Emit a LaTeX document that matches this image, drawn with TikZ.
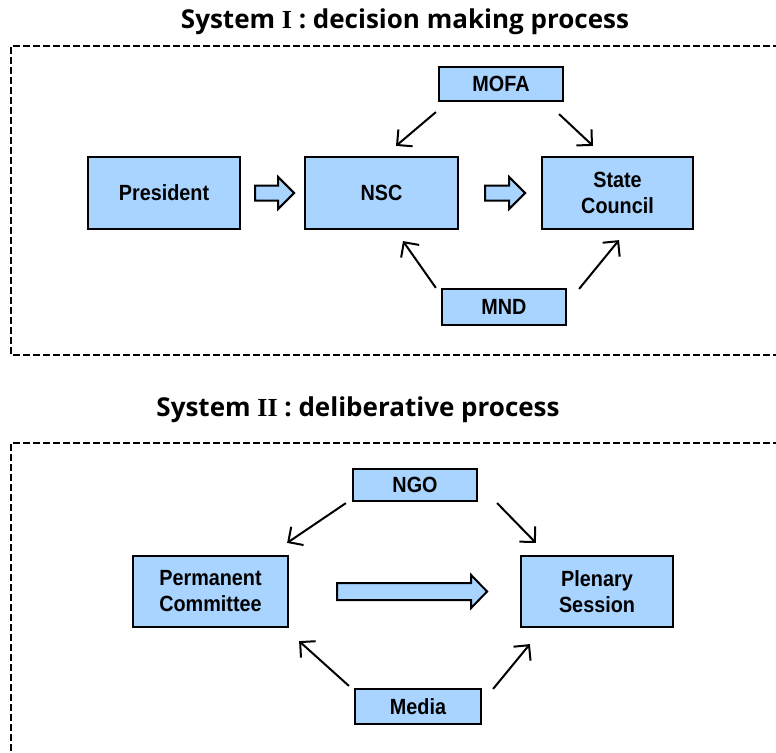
\documentclass[tikz,border=0pt]{standalone}
\usepackage{fontspec}
\setmainfont{Liberation Sans}
\newfontfamily\boxfont[FakeStretch=0.9]{Liberation Sans}
\newfontfamily\titlefont{Open Sans}
\newfontfamily\numfont{Liberation Serif}
\usetikzlibrary{arrows.meta,calc}
\definecolor{boxblue}{RGB}{168,212,255}
\tikzset{
  unitbox/.style={draw=black, line width=2.2pt, fill=boxblue, align=center,
    inner sep=0pt, font=\boxfont\bfseries\fontsize{22}{26}\selectfont},
  frame/.style={line width=1.8pt, dash pattern=on 7pt off 3pt},
  flow/.style={line width=2pt, -{Straight Barb[length=11pt,width=22pt,line width=2pt]}},
  fat/.style={draw=black, line width=2pt, fill=boxblue, line join=miter},
  heading/.style={font=\titlefont\bfseries\fontsize{26}{30}\selectfont, inner sep=0pt},
  pics/fatarrow/.style args={#1/#2/#3/#4}{code={
    % length / shaft half-width / head half-width / head length
    \draw[fat] (0,-#2) -- ({#1-#4},-#2) -- ({#1-#4},-#3) -- (#1,0)
      -- ({#1-#4},#3) -- ({#1-#4},#2) -- (0,#2) -- cycle;
  }}
}
\begin{document}
\begin{tikzpicture}[x=1pt, y=-1pt]
  \useasboundingbox (0,0) rectangle (776,752);
  \clip (0,0) rectangle (776,752);

  % ---------- System I ----------
  \node[heading] (title1) at (405,22) {System {\numfont\bfseries I} : decision making process};
  \draw[frame] (800,46) -- (11,46) -- (11,355) -- (800,355);

  \node[unitbox, minimum width=152, minimum height=72] (pres) at (164,193) {President};
  \node[unitbox, minimum width=153, minimum height=72] (nsc) at (381.5,193) {NSC};
  \node[unitbox, minimum width=151, minimum height=72] (state) at (617.5,193) {State\\Council};
  \node[unitbox, minimum width=124, minimum height=34] (mofa) at (501,84) {MOFA};
  \node[unitbox, minimum width=124, minimum height=36] (mnd) at (504,307) {MND};

  \coordinate (fa1) at ($(pres.east)+(14,0)$);
  \coordinate (fa2) at ($(nsc.east)+(26,0)$);
  \pic at (fa1) {fatarrow=39/7.5/16/16};
  \pic at (fa2) {fatarrow=40/7.5/16/16};

  \draw[flow] ([shift={(-2,10)}]mofa.south west) -- ([shift={(14.5,-10)}]nsc.north);
  \draw[flow] ([shift={(-5,12)}]mofa.south east) -- ([shift={(-24.5,-10)}]state.north);
  \draw[flow] ([shift={(-5,0)}]mnd.north west) -- ([shift={(21.5,11)}]nsc.south);
  \draw[flow] ([shift={(12,1)}]mnd.north east) -- ([shift={(1.5,10)}]state.south);

  % ---------- System II ----------
  \node[heading] (title2) at (358,410) {System {\numfont\bfseries II} : deliberative process};
  \draw[frame] (800,443) -- (11,443) -- (11,760);

  \node[unitbox, minimum width=155, minimum height=71] (perm) at (210.5,591.5) {Permanent\\Committee};
  \node[unitbox, minimum width=152, minimum height=71] (plen) at (597,591.5) {Plenary\\Session};
  \node[unitbox, minimum width=124, minimum height=32] (ngo) at (415,485) {NGO};
  \node[unitbox, minimum width=126, minimum height=35] (media) at (418,706.5) {Media};

  \coordinate (fa3) at ($(perm.east)+(48,0)$);
  \pic at (fa3) {fatarrow=150/8.5/16.5/16};

  \draw[flow] ([shift={(-6,1)}]ngo.south west) -- ([shift={(-2,-12)}]perm.north east);
  \draw[flow] ([shift={(19,1)}]ngo.south east) -- ([shift={(16,-12)}]plen.north west);
  \draw[flow] ([shift={(-5,-2)}]media.north west) -- ([shift={(10,13)}]perm.south east);
  \draw[flow] ([shift={(11,1)}]media.north east) -- ([shift={(10,16)}]plen.south west);
\end{tikzpicture}
\end{document}
